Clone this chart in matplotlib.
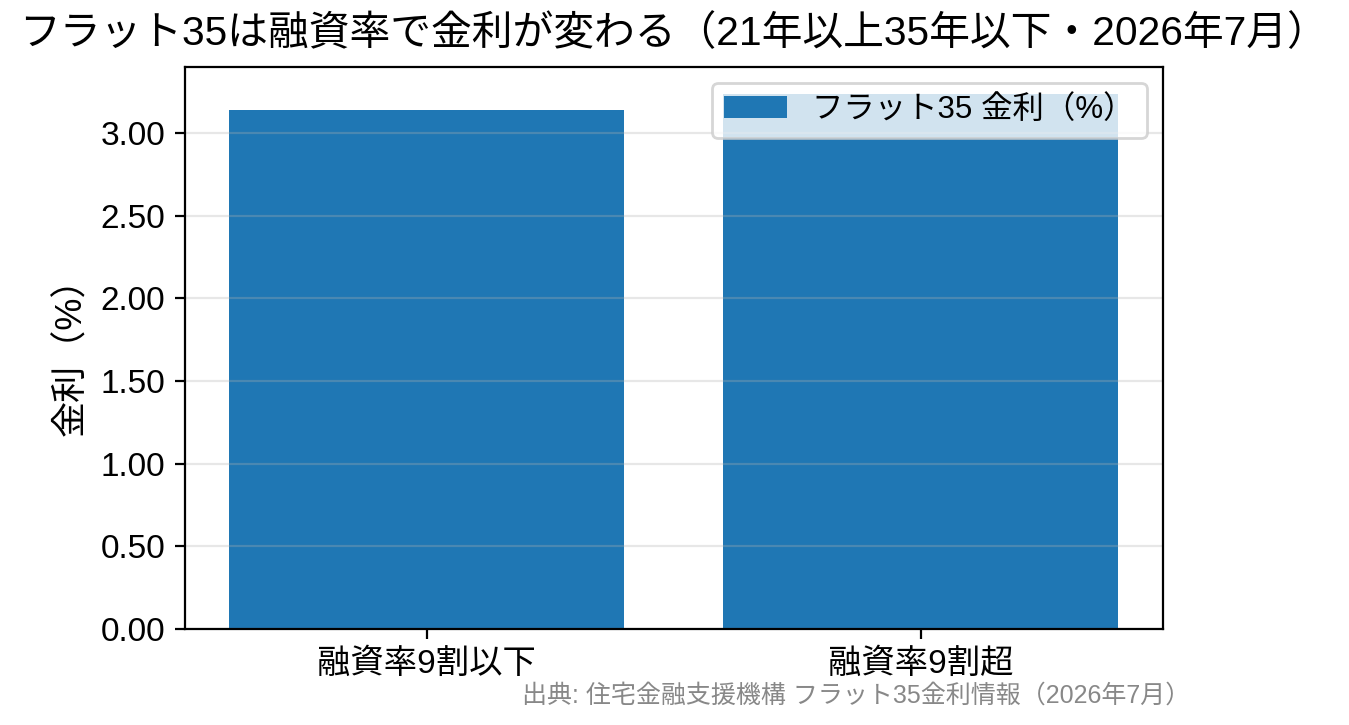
import matplotlib
matplotlib.use("Agg")
import matplotlib.pyplot as plt
from matplotlib.ticker import FormatStrFormatter

plt.rcParams['font.family'] = ['Liberation Sans', 'Noto Sans CJK JP', 'DejaVu Sans']

# データ（2026年7月・21年以上35年以下）
categories = ["融資率9割以下", "融資率9割超"]
rates = [3.14, 3.24]
series_name = "フラット35 金利（%）"
title = "フラット35は融資率で金利が変わる（21年以上35年以下・2026年7月）"
source = "出典: 住宅金融支援機構 フラット35金利情報（2026年7月）"

fig, ax = plt.subplots(figsize=(6.745, 3.625), dpi=200)
fig.subplots_adjust(left=0.137, right=0.862, top=0.9076, bottom=0.1328)

ax.bar(categories, rates, width=0.8, color="#1f77b4", label=series_name)
ax.yaxis.set_major_formatter(FormatStrFormatter("%.2f"))
ax.grid(axis="y", alpha=0.3)
ax.set_ylabel("金利（%）", fontsize=13)
ax.tick_params(labelsize=12)
ax.legend(loc="upper right", fontsize=11.3)

fig.text(0.499, 0.954, title, ha="center", va="center", fontsize=14.7)
fig.text(0.8826, 0.041, source, ha="right", va="center", fontsize=9, color="#888888")

fig.savefig("out.png", dpi=200)
